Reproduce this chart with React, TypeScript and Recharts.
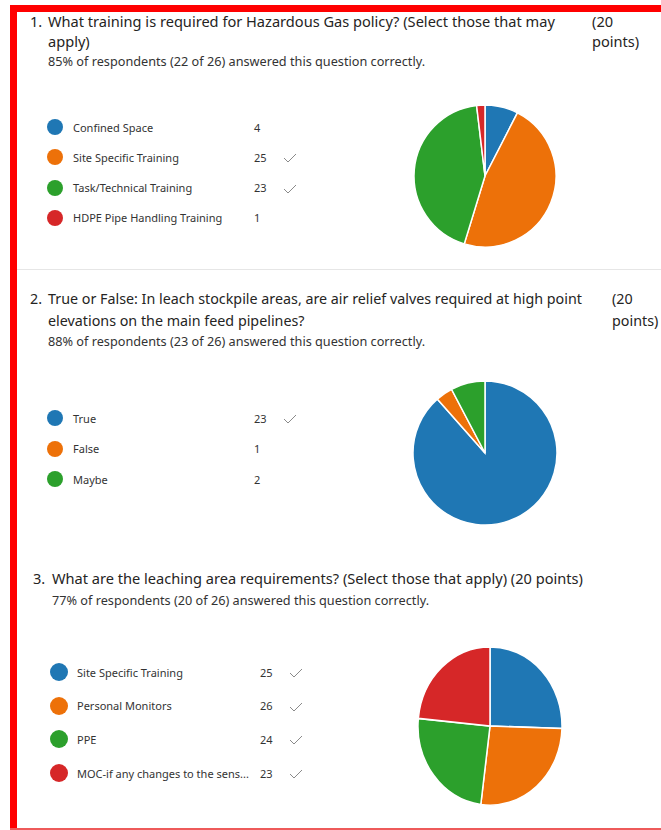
import { PieChart, Pie, Cell } from 'recharts';

// Question 1
const q1Labels = ['Confined Space', 'Site Specific Training', 'Task/Technical Training', 'HDPE Pipe Handling Training'];
const q1Counts = [4, 25, 23, 1];
const q1Correct = [false, true, true, false];

// Question 2
const q2Labels = ['True', 'False', 'Maybe'];
const q2Counts = [23, 1, 2];
const q2Correct = [true, false, false];

// Question 3
const q3Labels = ['Site Specific Training', 'Personal Monitors', 'PPE', 'MOC-if any changes to the sens...'];
const q3Counts = [25, 26, 24, 23];
const q3Correct = [true, true, true, true];

const COLORS = ['#1f77b4', '#ed7109', '#2ca02c', '#d62728'];
const FONT = '"Noto Sans", "Open Sans", sans-serif';

const Check = () => (
  <svg width={14} height={10} viewBox="0 0 14 10">
    <polyline points="1,5 5,9 13,1" fill="none" stroke="#8a8a8a" strokeWidth={1} />
  </svg>
);

interface LegendProps {
  labels: string[];
  counts: number[];
  correct: boolean[];
  left: number;
  top: number;
  gap: number;
  countX: number;
  radius: number;
  fontSize: number;
}

const AnswerLegend = ({ labels, counts, correct, left, top, gap, countX, radius, fontSize }: LegendProps) => (
  <>
    {labels.map((label, i) => (
      <div
        key={label}
        style={{
          position: 'absolute',
          left: left - radius,
          top: top + i * gap - 10,
          height: 20,
          display: 'flex',
          alignItems: 'center',
          fontSize,
          color: '#333',
          whiteSpace: 'nowrap',
        }}
      >
        <span
          style={{
            width: radius * 2,
            height: radius * 2,
            borderRadius: '50%',
            background: COLORS[i],
            display: 'inline-block',
          }}
        />
        <span style={{ position: 'absolute', left: radius + 18 }}>{label}</span>
        <span style={{ position: 'absolute', left: countX - left + radius }}>{counts[i]}</span>
        {correct[i] && (
          <span style={{ position: 'absolute', left: countX - left + radius + 29, top: 4 }}>
            <Check />
          </span>
        )}
      </div>
    ))}
  </>
);

interface PieProps {
  labels: string[];
  counts: number[];
  cx: number;
  cy: number;
  r: number;
  scaleY?: number;
}

const ResultPie = ({ labels, counts, cx, cy, r, scaleY = 1 }: PieProps) => {
  const data = labels.map((name, i) => ({ name, value: counts[i] }));
  const size = r * 2 + 8;
  return (
    <div
      style={{
        position: 'absolute',
        left: cx - size / 2,
        top: cy - size / 2,
        width: size,
        height: size,
        transform: `scaleY(${scaleY})`,
      }}
    >
      <PieChart width={size} height={size} margin={{ top: 0, right: 0, bottom: 0, left: 0 }}>
        <Pie
          data={data}
          dataKey="value"
          cx="50%"
          cy="50%"
          outerRadius={r}
          startAngle={90}
          endAngle={-270}
          stroke="#ffffff"
          strokeWidth={1.5}
          isAnimationActive={false}
        >
          {data.map((entry, index) => (
            <Cell key={`cell-${index}`} fill={COLORS[index % COLORS.length]} />
          ))}
        </Pie>
      </PieChart>
    </div>
  );
};

const Text = ({ left, top, size, children }: { left: number; top: number; size: number; children: any }) => (
  <div
    style={{
      position: 'absolute',
      left,
      top,
      fontSize: size,
      lineHeight: `${Math.round(size * 1.35)}px`,
      color: size > 13.5 ? '#252423' : '#333',
      whiteSpace: 'nowrap',
    }}
  >
    {children}
  </div>
);

const App = () => {
  return (
    <div
      style={{
        position: 'absolute',
        left: 0,
        top: 0,
        width: 661,
        height: 830,
        background: '#ffffff',
        fontFamily: FONT,
        overflow: 'hidden',
      }}
    >
      {/* red frame */}
      <div style={{ position: 'absolute', left: 10, top: 5, width: 651, height: 7, background: '#ff0000' }} />
      <div style={{ position: 'absolute', left: 10, top: 5, width: 7, height: 825, background: '#ff0000' }} />
      <div style={{ position: 'absolute', left: 10, top: 828, width: 651, height: 2, background: '#ee5a5a' }} />

      {/* Question 1 */}
      <Text left={30} top={11} size={14.6}>1.</Text>
      <Text left={48} top={11} size={14.6}>What training is required for Hazardous Gas policy? (Select those that may</Text>
      <Text left={48} top={31} size={14.6}>apply)</Text>
      <Text left={592} top={11} size={14.6}>(20</Text>
      <Text left={592} top={31} size={14.6}>points)</Text>
      <Text left={48} top={53} size={12.7}>85% of respondents (22 of 26) answered this question correctly.</Text>
      <AnswerLegend labels={q1Labels} counts={q1Counts} correct={q1Correct} left={55} top={127} gap={30.3} countX={254} radius={8} fontSize={11} />
      <ResultPie labels={q1Labels} counts={q1Counts} cx={485} cy={176} r={71} />

      <div style={{ position: 'absolute', left: 17, top: 269, width: 644, height: 1, background: '#e6e6e6' }} />

      {/* Question 2 */}
      <Text left={30} top={289} size={14.3}>2.</Text>
      <Text left={48} top={289} size={14.3}>True or False: In leach stockpile areas, are air relief valves required at high point</Text>
      <Text left={48} top={311} size={14.3}>elevations on the main feed pipelines?</Text>
      <Text left={612} top={289} size={14.3}>(20</Text>
      <Text left={612} top={311} size={14.3}>points)</Text>
      <Text left={48} top={333} size={12.7}>88% of respondents (23 of 26) answered this question correctly.</Text>
      <AnswerLegend labels={q2Labels} counts={q2Counts} correct={q2Correct} left={55} top={418} gap={30.5} countX={254} radius={8} fontSize={11} />
      <ResultPie labels={q2Labels} counts={q2Counts} cx={485} cy={453} r={72} />

      {/* Question 3 */}
      <Text left={33} top={568} size={14.6}>3.</Text>
      <Text left={52} top={568} size={14.6}>What are the leaching area requirements? (Select those that apply) (20 points)</Text>
      <Text left={52} top={592} size={12.7}>77% of respondents (20 of 26) answered this question correctly.</Text>
      <AnswerLegend labels={q3Labels} counts={q3Counts} correct={q3Correct} left={59} top={672} gap={33.7} countX={260} radius={9} fontSize={11} />
      <ResultPie labels={q3Labels} counts={q3Counts} cx={490} cy={726} r={72} scaleY={1.1} />
    </div>
  );
};

export default App;
